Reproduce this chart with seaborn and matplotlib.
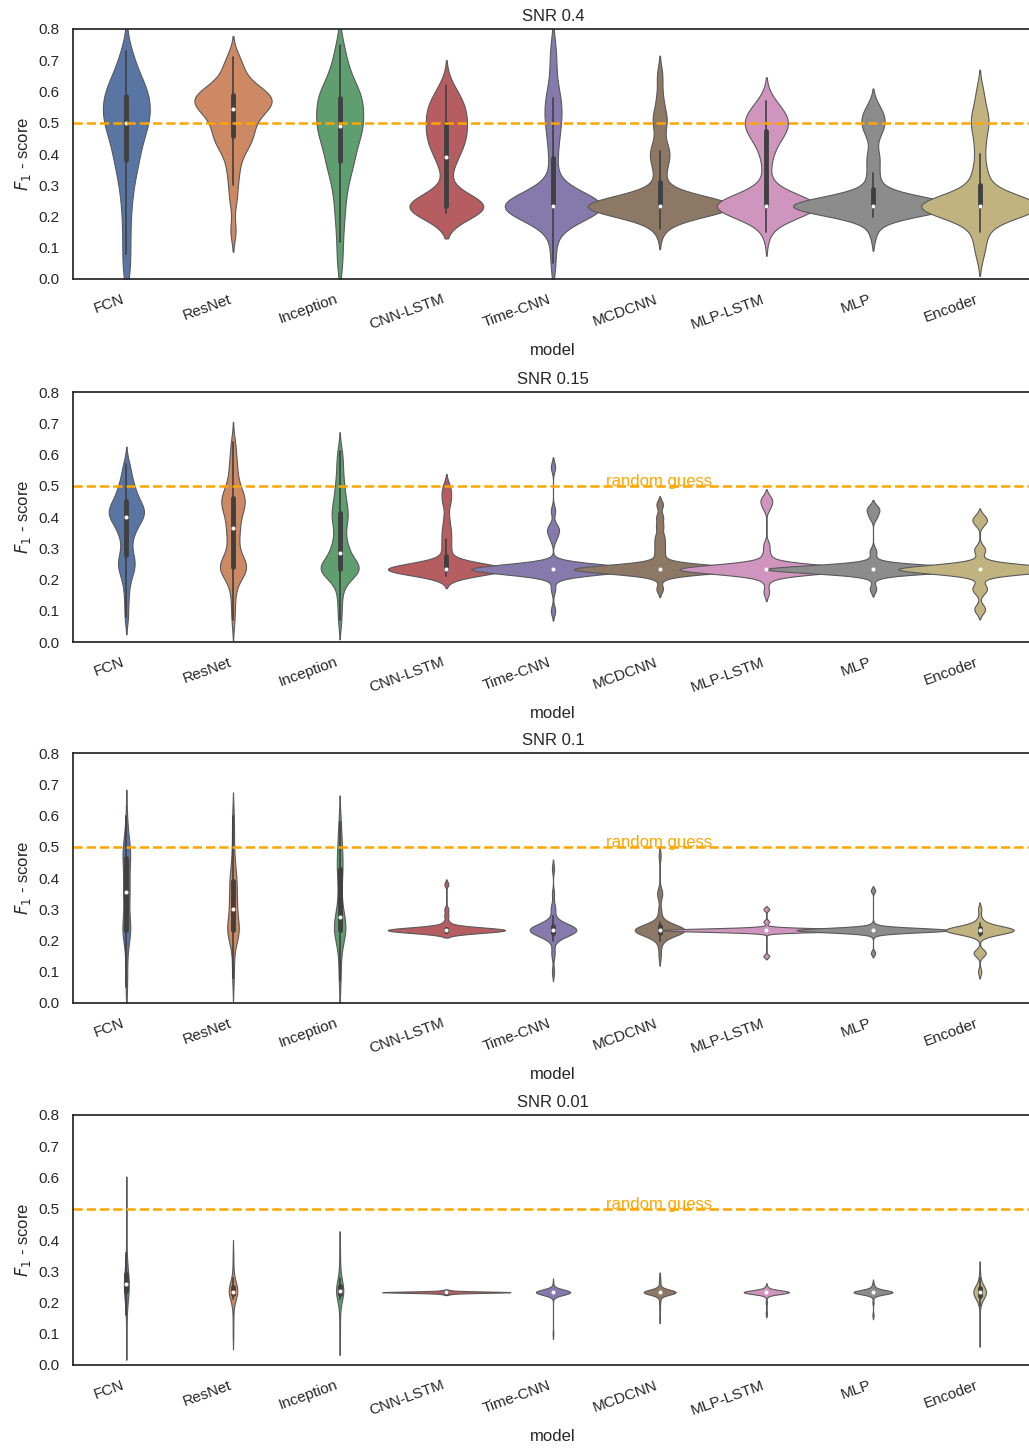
import numpy as np
import pandas as pd
import seaborn as sns
import matplotlib.pyplot as plt

# Categories and panel titles
models = ['FCN', 'ResNet', 'Inception', 'CNN-LSTM', 'Time-CNN',
          'MCDCNN', 'MLP-LSTM', 'MLP', 'Encoder']
snr_titles = ['SNR 0.4', 'SNR 0.15', 'SNR 0.1', 'SNR 0.01']
guess_level = 0.5

# F1 scores per model, written as (score, number of runs) pairs
snr04 = [
    [(0.02, 1), (0.08, 1), (0.14, 1), (0.20, 1), (0.25, 1), (0.29, 1), (0.32, 1), (0.35, 1),
     (0.37, 1), (0.39, 1), (0.40, 1), (0.42, 1), (0.44, 1), (0.46, 1), (0.47, 1), (0.48, 1),
     (0.49, 1), (0.50, 1), (0.51, 1), (0.52, 1), (0.53, 1), (0.54, 1), (0.55, 1), (0.56, 1),
     (0.57, 1), (0.58, 1), (0.59, 1), (0.60, 1), (0.61, 1), (0.62, 1), (0.63, 1), (0.65, 1),
     (0.67, 1), (0.70, 1), (0.73, 1)],
    [(0.155, 1), (0.25, 1), (0.30, 1), (0.34, 1), (0.37, 1), (0.40, 1), (0.42, 1), (0.43, 1),
     (0.44, 1), (0.45, 1), (0.46, 1), (0.47, 1), (0.48, 1), (0.49, 1), (0.50, 1), (0.51, 1),
     (0.52, 1), (0.53, 1), (0.54, 2), (0.55, 2), (0.56, 2), (0.57, 2), (0.58, 3), (0.59, 2),
     (0.60, 2), (0.61, 1), (0.62, 1), (0.63, 1), (0.65, 1), (0.67, 1), (0.69, 1), (0.71, 1)],
    [(0.05, 1), (0.12, 1), (0.18, 1), (0.22, 1), (0.26, 1), (0.29, 1), (0.32, 1), (0.34, 1),
     (0.36, 1), (0.37, 1), (0.38, 1), (0.40, 1), (0.41, 1), (0.43, 1), (0.44, 1), (0.45, 1),
     (0.46, 1), (0.47, 1), (0.48, 1), (0.49, 2), (0.50, 1), (0.51, 1), (0.52, 1), (0.53, 1),
     (0.54, 1), (0.55, 1), (0.56, 1), (0.57, 1), (0.58, 2), (0.59, 1), (0.60, 1), (0.61, 1),
     (0.62, 1), (0.64, 1), (0.66, 1), (0.68, 1), (0.71, 1), (0.75, 1)],
    [(0.21, 1), (0.22, 1), (0.225, 1), (0.23, 2), (0.233, 10), (0.236, 1), (0.24, 1), (0.25, 1),
     (0.34, 1), (0.37, 1), (0.39, 1), (0.41, 1), (0.42, 1), (0.43, 1), (0.44, 1), (0.45, 1),
     (0.46, 1), (0.47, 1), (0.48, 1), (0.49, 1), (0.50, 1), (0.51, 1), (0.52, 1), (0.53, 1),
     (0.54, 1), (0.55, 1), (0.56, 1), (0.57, 1), (0.58, 1), (0.60, 1), (0.62, 1)],
    [(0.05, 1), (0.12, 1), (0.18, 1), (0.20, 1), (0.233, 24), (0.26, 1), (0.30, 1), (0.35, 1),
     (0.40, 1), (0.44, 1), (0.47, 1), (0.50, 1), (0.52, 1), (0.54, 1), (0.57, 1), (0.58, 1),
     (0.62, 1), (0.68, 1), (0.74, 1)],
    [(0.16, 1), (0.19, 1), (0.21, 1), (0.233, 27), (0.26, 1), (0.29, 1), (0.33, 1), (0.36, 1),
     (0.39, 1), (0.40, 1), (0.41, 1), (0.44, 1), (0.49, 1), (0.51, 1), (0.53, 1), (0.58, 1),
     (0.65, 1)],
    [(0.15, 1), (0.20, 1), (0.233, 20), (0.26, 1), (0.30, 1), (0.36, 1), (0.40, 1), (0.43, 1),
     (0.45, 1), (0.46, 1), (0.47, 1), (0.48, 1), (0.49, 1), (0.50, 2), (0.51, 1), (0.52, 1),
     (0.53, 1), (0.54, 1), (0.55, 1), (0.57, 1)],
    [(0.15, 1), (0.20, 1), (0.233, 26), (0.25, 1), (0.28, 1), (0.31, 1), (0.34, 1), (0.38, 1),
     (0.40, 1), (0.46, 1), (0.48, 1), (0.50, 1), (0.51, 1), (0.53, 1), (0.55, 1)],
    [(0.08, 1), (0.12, 1), (0.15, 1), (0.18, 1), (0.20, 1), (0.21, 1), (0.22, 1), (0.233, 17),
     (0.245, 1), (0.26, 1), (0.28, 1), (0.30, 1), (0.33, 1), (0.35, 1), (0.40, 1), (0.44, 1),
     (0.48, 1), (0.50, 1), (0.52, 1), (0.55, 1), (0.60, 1)],
]

snr015 = [
    [(0.08, 1), (0.13, 1), (0.17, 1), (0.20, 1), (0.22, 1), (0.23, 1), (0.24, 1), (0.25, 1),
     (0.26, 1), (0.27, 1), (0.28, 1), (0.30, 1), (0.32, 1), (0.34, 1), (0.35, 1), (0.36, 1),
     (0.37, 1), (0.38, 1), (0.39, 2), (0.40, 2), (0.41, 2), (0.42, 3), (0.43, 2), (0.44, 1),
     (0.45, 2), (0.46, 1), (0.47, 1), (0.48, 1), (0.49, 1), (0.50, 1), (0.51, 1), (0.53, 1),
     (0.55, 1), (0.57, 1)],
    [(0.07, 1), (0.12, 1), (0.16, 1), (0.19, 1), (0.21, 1), (0.22, 1), (0.23, 1), (0.233, 3),
     (0.24, 2), (0.25, 2), (0.26, 1), (0.27, 1), (0.28, 1), (0.30, 1), (0.32, 1), (0.33, 1),
     (0.35, 1), (0.36, 1), (0.37, 1), (0.38, 1), (0.40, 1), (0.41, 1), (0.42, 1), (0.43, 1),
     (0.44, 2), (0.45, 2), (0.46, 2), (0.47, 1), (0.48, 1), (0.49, 1), (0.50, 1), (0.52, 1),
     (0.54, 1), (0.56, 1), (0.58, 1), (0.61, 1), (0.64, 1)],
    [(0.07, 1), (0.12, 1), (0.16, 1), (0.19, 1), (0.21, 1), (0.22, 1), (0.23, 1), (0.233, 8),
     (0.24, 1), (0.25, 1), (0.26, 1), (0.27, 1), (0.28, 1), (0.29, 1), (0.30, 1), (0.31, 1),
     (0.32, 1), (0.34, 1), (0.36, 1), (0.38, 1), (0.39, 1), (0.40, 1), (0.41, 1), (0.42, 1),
     (0.43, 1), (0.45, 1), (0.46, 1), (0.48, 1), (0.50, 1), (0.52, 1), (0.55, 1), (0.58, 1),
     (0.61, 1)],
    [(0.21, 1), (0.22, 1), (0.233, 26), (0.25, 1), (0.27, 1), (0.29, 1), (0.31, 1), (0.33, 1),
     (0.35, 1), (0.37, 1), (0.40, 1), (0.44, 1), (0.46, 1), (0.48, 1), (0.50, 1)],
    [(0.10, 1), (0.17, 1), (0.21, 1), (0.233, 38), (0.33, 1), (0.35, 1), (0.36, 1), (0.37, 1),
     (0.42, 1), (0.56, 1)],
    [(0.17, 1), (0.21, 1), (0.22, 1), (0.233, 25), (0.245, 1), (0.26, 1), (0.28, 1), (0.30, 1),
     (0.32, 1), (0.34, 1), (0.37, 1), (0.40, 1), (0.44, 1)],
    [(0.16, 1), (0.20, 1), (0.22, 1), (0.233, 31), (0.26, 1), (0.28, 1), (0.31, 1), (0.43, 1),
     (0.45, 1), (0.46, 1)],
    [(0.17, 1), (0.21, 1), (0.233, 33), (0.26, 1), (0.29, 1), (0.40, 1), (0.42, 1), (0.43, 1)],
    [(0.10, 1), (0.11, 1), (0.16, 1), (0.17, 1), (0.18, 1), (0.21, 1), (0.233, 28), (0.26, 1),
     (0.29, 1), (0.30, 1), (0.38, 1), (0.39, 1), (0.40, 1)],
]

snr01 = [
    [(0.05, 1), (0.10, 1), (0.15, 1), (0.20, 1), (0.22, 1), (0.23, 1), (0.233, 3), (0.24, 1),
     (0.26, 1), (0.28, 1), (0.30, 1), (0.32, 1), (0.34, 1), (0.35, 1), (0.36, 1), (0.37, 1),
     (0.38, 1), (0.40, 1), (0.42, 1), (0.44, 1), (0.45, 1), (0.46, 1), (0.47, 1), (0.48, 1),
     (0.49, 1), (0.50, 1), (0.51, 1), (0.52, 1), (0.55, 1), (0.60, 1)],
    [(0.08, 1), (0.13, 1), (0.18, 1), (0.21, 1), (0.22, 1), (0.23, 1), (0.233, 4), (0.24, 1),
     (0.25, 1), (0.27, 1), (0.29, 1), (0.30, 1), (0.31, 1), (0.32, 1), (0.33, 1), (0.35, 1),
     (0.36, 1), (0.38, 1), (0.39, 1), (0.40, 1), (0.41, 1), (0.43, 1), (0.46, 1), (0.50, 1),
     (0.55, 1), (0.60, 1)],
    [(0.07, 1), (0.12, 1), (0.17, 1), (0.20, 1), (0.22, 1), (0.233, 4), (0.24, 1), (0.25, 1),
     (0.26, 1), (0.27, 1), (0.28, 1), (0.30, 1), (0.33, 1), (0.36, 1), (0.40, 1), (0.42, 1),
     (0.43, 1), (0.45, 1), (0.47, 1), (0.49, 1), (0.51, 1), (0.55, 1), (0.58, 1)],
    [(0.225, 4), (0.23, 8), (0.233, 10), (0.236, 8), (0.24, 4), (0.25, 1), (0.26, 1), (0.28, 1),
     (0.30, 1), (0.38, 1)],
    [(0.10, 1), (0.15, 1), (0.17, 1), (0.20, 1), (0.21, 1), (0.215, 2), (0.22, 3), (0.225, 3),
     (0.23, 3), (0.233, 4), (0.236, 3), (0.24, 3), (0.245, 3), (0.25, 2), (0.255, 2), (0.26, 1),
     (0.28, 1), (0.30, 1), (0.31, 1), (0.35, 1), (0.43, 1)],
    [(0.15, 1), (0.18, 1), (0.20, 1), (0.21, 1), (0.215, 1), (0.22, 3), (0.225, 3), (0.23, 4),
     (0.233, 6), (0.236, 4), (0.24, 3), (0.245, 3), (0.25, 2), (0.26, 1), (0.28, 1), (0.30, 1),
     (0.34, 1), (0.35, 1), (0.36, 1), (0.47, 1)],
    [(0.15, 1), (0.233, 36), (0.24, 1), (0.26, 1), (0.30, 1)],
    [(0.16, 1), (0.22, 1), (0.233, 34), (0.24, 1), (0.25, 1), (0.36, 1)],
    [(0.10, 1), (0.155, 1), (0.16, 2), (0.165, 1), (0.215, 1), (0.22, 2), (0.225, 3), (0.23, 4),
     (0.233, 6), (0.236, 4), (0.24, 3), (0.245, 2), (0.25, 1), (0.255, 1), (0.27, 1), (0.30, 1)],
]

snr001 = [
    [(0.10, 1), (0.13, 1), (0.16, 1), (0.20, 1), (0.22, 2), (0.23, 3), (0.24, 4), (0.25, 4),
     (0.26, 3), (0.27, 3), (0.28, 3), (0.29, 2), (0.30, 2), (0.33, 1), (0.36, 1), (0.40, 1),
     (0.45, 1), (0.49, 1), (0.52, 1)],
    [(0.10, 1), (0.15, 1), (0.19, 1), (0.21, 1), (0.22, 2), (0.23, 3), (0.235, 4), (0.24, 3),
     (0.25, 3), (0.26, 2), (0.28, 1), (0.31, 1), (0.35, 1)],
    [(0.09, 1), (0.14, 1), (0.18, 1), (0.21, 1), (0.22, 2), (0.23, 3), (0.235, 3), (0.24, 3),
     (0.25, 3), (0.26, 2), (0.28, 1), (0.30, 1), (0.33, 1), (0.37, 1)],
    [(0.226, 1), (0.228, 1), (0.229, 1), (0.230, 3), (0.231, 4), (0.232, 6), (0.233, 10),
     (0.234, 6), (0.235, 4), (0.236, 3), (0.237, 1), (0.238, 1), (0.240, 1)],
    [(0.10, 1), (0.22, 1), (0.233, 48), (0.24, 1), (0.26, 1)],
    [(0.15, 1), (0.18, 1), (0.20, 1), (0.21, 1), (0.22, 1), (0.233, 42), (0.245, 1), (0.25, 1),
     (0.26, 1), (0.27, 1), (0.28, 1)],
    [(0.165, 1), (0.20, 1), (0.22, 1), (0.233, 34), (0.24, 1), (0.245, 1), (0.25, 1)],
    [(0.16, 1), (0.20, 1), (0.22, 1), (0.233, 33), (0.245, 2), (0.25, 1), (0.26, 1)],
    [(0.09, 1), (0.15, 1), (0.19, 1), (0.20, 1), (0.21, 2), (0.215, 2), (0.22, 3), (0.225, 3),
     (0.23, 4), (0.233, 4), (0.236, 4), (0.24, 3), (0.245, 3), (0.25, 2), (0.255, 2), (0.26, 1),
     (0.27, 1), (0.28, 1), (0.30, 1)],
]

panels = [snr04, snr015, snr01, snr001]
violin_widths = [1.5, 2.0, 2.0, 1.2]
bw_adjusts = [0.6, 0.5, 0.6, 1.0]


def to_frame(panel):
    rows = []
    for name, pairs in zip(models, panel):
        for score, n in pairs:
            rows += [(name, score)] * n
    return pd.DataFrame(rows, columns=['model', 'score'])


sns.set_theme(style='white')
plt.rcParams['font.family'] = ['Liberation Sans', 'DejaVu Sans']

fig = plt.figure(figsize=(10.29, 14.48), dpi=100)
fw, fh = 1029, 1448
tops = [29, 392, 753, 1115]

for i, panel in enumerate(panels):
    ax = fig.add_axes([73 / fw, 1 - (tops[i] + 250) / fh, 960 / fw, 250 / fh])
    df = to_frame(panel)
    sns.violinplot(data=df, x='model', y='score', hue='model', order=models,
                   hue_order=models, palette='deep', legend=False, common_norm=True,
                   width=violin_widths[i], bw_adjust=bw_adjusts[i], linewidth=0.8,
                   linecolor='0.35',
                   inner_kws=dict(box_width=3.5, whis_width=1.2, marker='o',
                                  markersize=2.2, color='0.25'),
                   ax=ax)
    ax.axhline(guess_level, ls='--', color='orange', lw=1.8)
    if i > 0:
        ax.text(4.5, guess_level, 'random guess', color='orange', fontsize=12)
    ax.set_xlim(-0.5, 8.5)
    ax.set_ylim(0, 0.8)
    ax.set_yticks(np.arange(0, 0.81, 0.1))
    ax.set_title(snr_titles[i], fontsize=12)
    ax.set_ylabel('$F_1$ - score', fontsize=12)
    ax.set_xlabel('model', fontsize=12, labelpad=8)
    ax.tick_params(axis='x', rotation=20)
    for lbl in ax.get_xticklabels():
        lbl.set_ha('right')

fig.savefig('out.png', dpi=100)
